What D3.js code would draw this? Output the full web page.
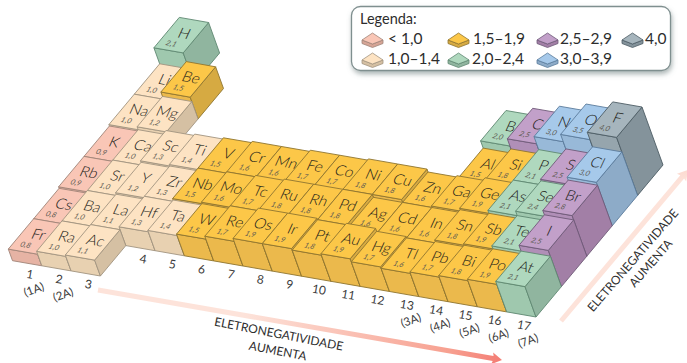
<!doctype html>
<html lang="pt">

<head>
    <meta charset="UTF-8">
    <title>Eletronegatividade</title>
    <script src="https://cdn.jsdelivr.net/npm/d3@7"></script>
    <style>
    body { margin: 0; background: #fff; }
    svg { display: block; }
    text { font-family: Lato, "Open Sans", sans-serif; }
    </style>
</head>

<body>
    <svg width="687" height="363"></svg>
    <script type="text/javascript">
    // elementos, linha por linha da tabela
    var symbols = ['H',
        'Li', 'Be', 'B', 'C', 'N', 'O', 'F',
        'Na', 'Mg', 'Al', 'Si', 'P', 'S', 'Cl',
        'K', 'Ca', 'Sc', 'Ti', 'V', 'Cr', 'Mn', 'Fe', 'Co', 'Ni', 'Cu', 'Zn', 'Ga', 'Ge', 'As', 'Se', 'Br',
        'Rb', 'Sr', 'Y', 'Zr', 'Nb', 'Mo', 'Tc', 'Ru', 'Rh', 'Pd', 'Ag', 'Cd', 'In', 'Sn', 'Sb', 'Te', 'I',
        'Cs', 'Ba', 'La', 'Hf', 'Ta', 'W', 'Re', 'Os', 'Ir', 'Pt', 'Au', 'Hg', 'Tl', 'Pb', 'Bi', 'Po', 'At',
        'Fr', 'Ra', 'Ac'];
    var values = [2.1,
        1.0, 1.5, 2.0, 2.5, 3.0, 3.5, 4.0,
        1.0, 1.2, 1.5, 1.8, 2.1, 2.5, 3.0,
        0.9, 1.0, 1.3, 1.4, 1.5, 1.6, 1.6, 1.7, 1.7, 1.8, 1.8, 1.6, 1.7, 1.9, 2.1, 2.4, 2.8,
        0.9, 1.0, 1.2, 1.3, 1.5, 1.6, 1.7, 1.8, 1.8, 1.8, 1.6, 1.6, 1.6, 1.8, 1.9, 2.1, 2.5,
        0.8, 1.0, 1.1, 1.3, 1.4, 1.5, 1.7, 1.9, 1.9, 1.8, 1.9, 1.7, 1.6, 1.7, 1.8, 1.9, 2.1,
        0.8, 1.0, 1.1];
    var groups = [1,
        1, 2, 13, 14, 15, 16, 17,
        1, 2, 13, 14, 15, 16, 17,
        1, 2, 3, 4, 5, 6, 7, 8, 9, 10, 11, 12, 13, 14, 15, 16, 17,
        1, 2, 3, 4, 5, 6, 7, 8, 9, 10, 11, 12, 13, 14, 15, 16, 17,
        1, 2, 3, 4, 5, 6, 7, 8, 9, 10, 11, 12, 13, 14, 15, 16, 17,
        1, 2, 3];
    var periods = [1,
        2, 2, 2, 2, 2, 2, 2,
        3, 3, 3, 3, 3, 3, 3,
        4, 4, 4, 4, 4, 4, 4, 4, 4, 4, 4, 4, 4, 4, 4, 4, 4,
        5, 5, 5, 5, 5, 5, 5, 5, 5, 5, 5, 5, 5, 5, 5, 5, 5,
        6, 6, 6, 6, 6, 6, 6, 6, 6, 6, 6, 6, 6, 6, 6, 6, 6,
        7, 7, 7];
    var groupLabels = ['1', '2', '3', '4', '5', '6', '7', '8', '9', '10', '11', '12', '13', '14', '15', '16', '17'];
    var familyLabels = ['(1A)', '(2A)', '', '', '', '', '', '', '', '', '', '', '(3A)', '(4A)', '(5A)', '(6A)', '(7A)'];
    var legendBreaks = [1, 1.5, 2, 2.5, 3, 4];
    var legendLabels = ['< 1,0', '1,0–1,4', '1,5–1,9', '2,0–2,4', '2,5–2,9', '3,0–3,9', '4,0'];
    var topColors = ['#f9c6b6', '#fde3c3', '#fcc748', '#afd8be', '#c2a0c9', '#a6c9ea', '#a6b5bd'];
    var frontColors = ['#e6b3a4', '#e8d1b1', '#ebb94c', '#9fc8ae', '#b08fb7', '#98b9d8', '#96a5ad'];
    var sideColors = ['#d6a596', '#d5c0a3', '#d6aa42', '#90b59f', '#a27fa6', '#8dabc8', '#84939b'];
    var edgeColors = ['#a08478', '#a29480', '#8f7530', '#5f8872', '#6f5a78', '#5b7c9c', '#4d5c64'];

    var svg = d3.select('svg');

    // projecao: coluna e linha no chao, altura sobe inclinada
    var colX = d3.scaleLinear().domain([0, 17]).range([190.3, 688.4]);
    var colY = d3.scaleLinear().domain([0, 17]).range([47.9, 134.6]);
    var rowX = d3.scaleLinear().domain([0, 7]).range([0, -177.8]);
    var rowY = d3.scaleLinear().domain([0, 7]).range([0, 212.8]);
    var heightX = d3.scaleLinear().domain([0, 4]).range([0, -21]);
    var heightY = d3.scaleLinear().domain([0, 4]).range([0, -58]);
    var category = d3.scaleThreshold().domain(legendBreaks).range(d3.range(7));

    function project(c, r, v) {
        return [colX(c) + rowX(r) + heightX(v), colY(c) + rowY(r) + heightY(v)];
    }

    function face(points) {
        return 'M' + points.map(function(p) {
            return p[0].toFixed(1) + ',' + p[1].toFixed(1);
        }).join('L') + 'Z';
    }

    function valueText(v) {
        return d3.format('.1f')(v).replace('.', ',');
    }

    var elements = symbols.map(function(s, i) {
        return { symbol: s, value: values[i], col: groups[i] - 1, row: periods[i] - 1 };
    });
    // do fundo para a frente, da esquerda para a direita
    elements.sort(function(a, b) {
        return (a.row - b.row) || (a.col - b.col);
    });

    var tiles = svg.append('g')
        .classed('tiles', true)
        .selectAll('g')
        .data(elements)
        .enter()
        .append('g');

    tiles.append('path')
        .attr('d', function(d) {
            return face([project(d.col, d.row + 1, d.value), project(d.col + 1, d.row + 1, d.value), project(d.col + 1, d.row + 1, 0), project(d.col, d.row + 1, 0)]);
        })
        .attr('fill', function(d) { return frontColors[category(d.value)]; })
        .attr('stroke', function(d) { return edgeColors[category(d.value)]; })
        .attr('stroke-width', 0.9)
        .attr('stroke-linejoin', 'round');
    tiles.append('path')
        .attr('d', function(d) {
            return face([project(d.col + 1, d.row, d.value), project(d.col + 1, d.row + 1, d.value), project(d.col + 1, d.row + 1, 0), project(d.col + 1, d.row, 0)]);
        })
        .attr('fill', function(d) { return sideColors[category(d.value)]; })
        .attr('stroke', function(d) { return edgeColors[category(d.value)]; })
        .attr('stroke-width', 0.9)
        .attr('stroke-linejoin', 'round');
    tiles.append('path')
        .attr('d', function(d) {
            return face([project(d.col, d.row, d.value), project(d.col + 1, d.row, d.value), project(d.col + 1, d.row + 1, d.value), project(d.col, d.row + 1, d.value)]);
        })
        .attr('fill', function(d) { return topColors[category(d.value)]; })
        .attr('stroke', function(d) { return edgeColors[category(d.value)]; })
        .attr('stroke-width', 0.9)
        .attr('stroke-linejoin', 'round');

    function onTile(c, r, v) {
        var p = project(c, r, v);
        return 'matrix(1,0.17,-0.42,0.92,' + p[0].toFixed(1) + ',' + p[1].toFixed(1) + ')';
    }
    tiles.append('text')
        .text(function(d) { return d.symbol; })
        .attr('transform', function(d) { return onTile(d.col + 0.6, d.row + 0.58, d.value); })
        .attr('text-anchor', 'middle')
        .style('font-size', '15px')
        .style('font-weight', 300)
        .style('fill', '#1f1f1a');
    tiles.append('text')
        .text(function(d) { return valueText(d.value); })
        .attr('transform', function(d) { return onTile(d.col + 0.44, d.row + 0.86, d.value); })
        .attr('text-anchor', 'middle')
        .style('font-size', '7.5px')
        .style('font-style', 'italic')
        .style('fill', '#5c5a52');

    // numeros dos grupos
    var frontRows = groupLabels.map(function(g, i) {
        return d3.max(elements.filter(function(d) { return d.col === i; }), function(d) { return d.row + 1; });
    });
    var axis = svg.append('g').classed('group-labels', true);
    axis.selectAll('text.group')
        .data(groupLabels)
        .enter()
        .append('text')
        .classed('group', true)
        .text(function(d) { return d; })
        .attr('text-anchor', 'middle')
        .attr('transform', function(d, i) {
            var p = project(i + 0.5, frontRows[i], 0);
            return 'translate(' + (p[0] + 2) + ',' + (p[1] + 15) + ') rotate(10)';
        })
        .style('font-size', '12px')
        .style('fill', '#3c3c3c');
    axis.selectAll('text.family')
        .data(familyLabels)
        .enter()
        .append('text')
        .classed('family', true)
        .text(function(d) { return d; })
        .attr('text-anchor', 'middle')
        .attr('transform', function(d, i) {
            var p = project(i + 0.5, frontRows[i], 0);
            return 'translate(' + (p[0] + 8) + ',' + (p[1] + 30) + ') rotate(-20)';
        })
        .style('font-size', '11.5px')
        .style('fill', '#3c3c3c');

    // setas
    var defs = svg.append('defs');
    function arrow(id, x0, y0, x1, y1) {
        var gradient = defs.append('linearGradient')
            .attr('id', id)
            .attr('gradientUnits', 'userSpaceOnUse')
            .attr('x1', x0).attr('y1', y0).attr('x2', x1).attr('y2', y1);
        gradient.append('stop').attr('offset', '0%').attr('stop-color', '#fde3da');
        gradient.append('stop').attr('offset', '50%').attr('stop-color', '#f7a090');
        gradient.append('stop').attr('offset', '85%').attr('stop-color', '#ee4044');
        gradient.append('stop').attr('offset', '100%').attr('stop-color', '#e8282e');
        var len = Math.hypot(x1 - x0, y1 - y0);
        var angle = Math.atan2(y1 - y0, x1 - x0) * 180 / Math.PI;
        svg.append('path')
            .attr('d', 'M0,-2.5L' + (len - 9) + ',-2.5L' + (len - 10) + ',-6L' + len + ',0L' + (len - 10) + ',6L' + (len - 9) + ',2.5L0,2.5Z')
            .attr('transform', 'translate(' + x0 + ',' + y0 + ') rotate(' + angle + ')')
            .attr('fill', 'url(#' + id + ')');
    }
    arrow('arrow-bottom', 98, 290, 502, 360);
    arrow('arrow-right', 561, 321, 688, 170);

    function caption(label, x, y, angle) {
        svg.append('text')
            .text(label)
            .attr('text-anchor', 'middle')
            .attr('transform', 'translate(' + x + ',' + y + ') rotate(' + angle + ')')
            .style('font-size', '12px')
            .style('fill', '#2f2f2f');
    }
    caption('ELETRONEGATIVIDADE', 278, 338, 11);
    caption('AUMENTA', 277, 355, 11);
    caption('ELETRONEGATIVIDADE', 636, 263, -49);
    caption('AUMENTA', 654, 266, -49);

    // legenda
    var shadow = defs.append('filter').attr('id', 'legend-shadow')
        .attr('x', '-5%').attr('y', '-10%').attr('width', '112%').attr('height', '135%');
    shadow.append('feDropShadow')
        .attr('dx', 1).attr('dy', 3).attr('stdDeviation', 2.5)
        .attr('flood-color', '#6b7b7b').attr('flood-opacity', 0.55);
    svg.append('rect')
        .attr('x', 351.5).attr('y', 6.5).attr('width', 319).attr('height', 64).attr('rx', 9)
        .attr('fill', '#fff')
        .attr('stroke', '#7f8f8f')
        .attr('stroke-width', 1.3)
        .attr('filter', 'url(#legend-shadow)');
    svg.append('text')
        .text('Legenda:')
        .attr('x', 360).attr('y', 24)
        .style('font-size', '14.5px')
        .style('fill', '#2d2d2d');

    var legendSlotX = [362, 362, 448, 448, 537, 537, 622];
    var legendRowY = [40, 60, 40, 60, 40, 60, 40];
    var legendTextX = [388, 388, 473, 472, 560, 560, 645];
    var legend = svg.append('g').classed('legend', true)
        .selectAll('g')
        .data(legendLabels)
        .enter()
        .append('g')
        .attr('transform', function(d, i) { return 'translate(' + legendSlotX[i] + ',' + legendRowY[i] + ')'; });
    legend.append('path')
        .attr('d', 'M0,0L0,3.5L10.5,7.5L21,3.5L21,0L10.5,4Z')
        .attr('fill', function(d, i) { return sideColors[i]; })
        .attr('stroke', function(d, i) { return edgeColors[i]; })
        .attr('stroke-width', 0.8);
    legend.append('path')
        .attr('d', 'M0,0L10.5,-7L21,0L10.5,4Z')
        .attr('fill', function(d, i) { return topColors[i]; })
        .attr('stroke', function(d, i) { return edgeColors[i]; })
        .attr('stroke-width', 0.8);
    legend.append('text')
        .text(function(d) { return d; })
        .attr('x', function(d, i) { return legendTextX[i] - legendSlotX[i]; })
        .attr('y', 4)
        .style('font-size', '15.5px')
        .style('fill', '#2d2d2d');
    </script>
</body>

</html>
